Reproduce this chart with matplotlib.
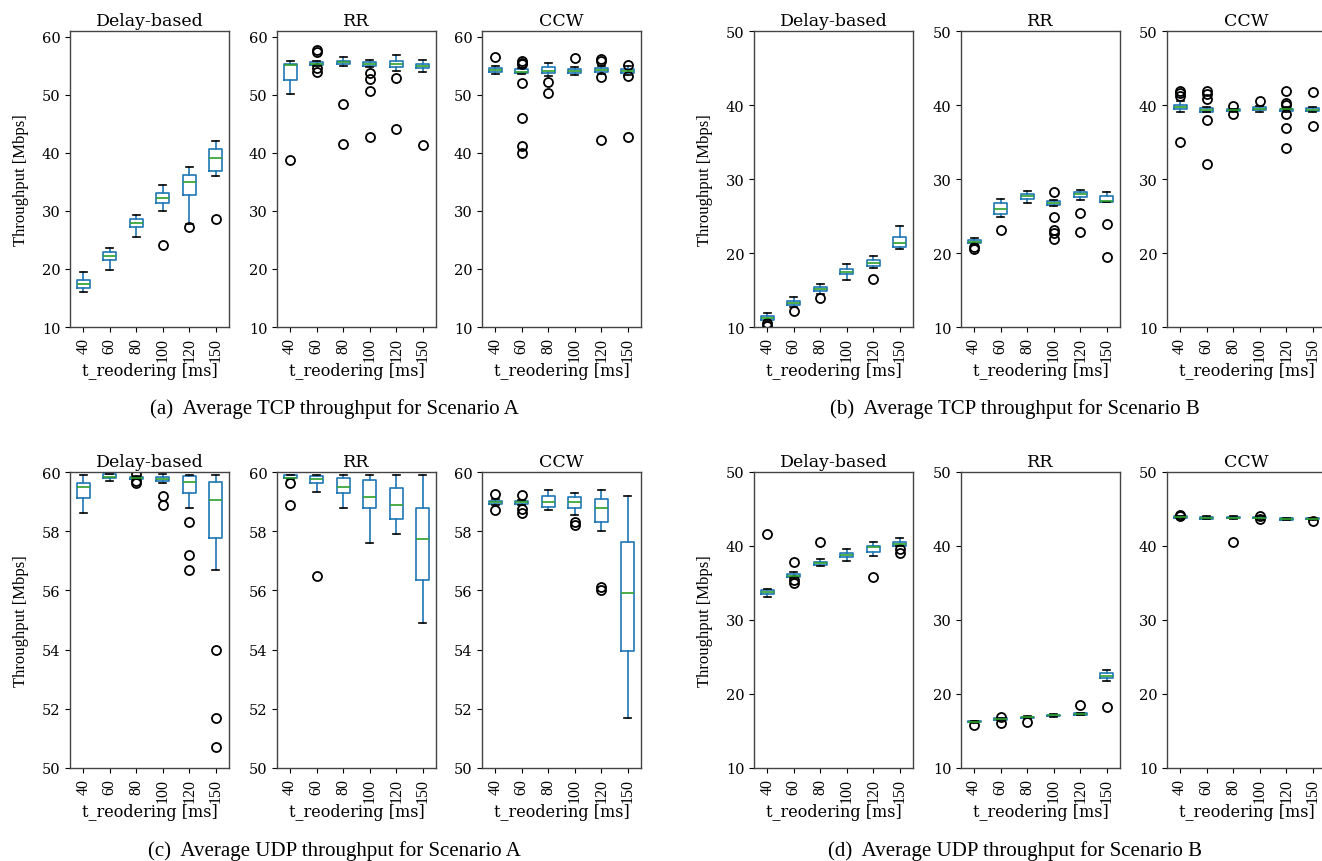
import matplotlib
matplotlib.use("Agg")
import matplotlib.pyplot as plt

# reordering timer settings (x ticks) and the three schemes per group
T_REORDER = ["40", "60", "80", "100", "120", "150"]
SCHEMES = ["Delay-based", "RR", "CCW"]

# box statistics per t_reordering: whisker low, Q1, median, Q3, whisker high, outliers
TCP_A_DELAY = dict(lo=[16.0, 19.9, 25.5, 30.0, 27.8, 36.0],
                   q1=[16.8, 21.6, 27.3, 31.4, 32.8, 36.9],
                   med=[17.4, 22.3, 27.95, 32.25, 35.0, 39.2],
                   q3=[18.1, 23.0, 28.6, 33.05, 36.2, 40.7],
                   hi=[19.5, 23.6, 29.3, 34.5, 37.6, 42.05],
                   fl=[[], [], [], [24.1], [27.3], [28.6]])
TCP_A_RR = dict(lo=[50.1, 55.0, 55.05, 54.85, 54.1, 53.85],
                q1=[52.5, 55.2, 55.35, 55.0, 54.8, 54.6],
                med=[55.2, 55.4, 55.6, 55.3, 55.3, 55.0],
                q3=[55.3, 55.6, 55.9, 55.6, 55.75, 55.4],
                hi=[55.75, 55.9, 56.6, 56.0, 56.85, 56.0],
                fl=[[38.7], [57.8, 57.4, 54.6, 53.9], [48.35, 41.5],
                    [53.75, 52.65, 50.65, 42.8], [52.95, 44.2], [41.3]])
TCP_A_CCW = dict(lo=[53.6, 53.6, 53.2, 53.5, 53.6, 53.5],
                 q1=[53.9, 53.75, 53.75, 53.8, 53.9, 53.7],
                 med=[54.2, 54.0, 54.1, 54.1, 54.2, 54.1],
                 q3=[54.6, 54.4, 54.8, 54.5, 54.6, 54.5],
                 hi=[54.9, 54.55, 55.5, 54.8, 55.0, 54.9],
                 fl=[[56.6], [55.9, 55.5, 55.3, 52.1, 46.0, 41.1, 39.9], [52.2, 50.4],
                     [56.3], [56.1, 55.9, 53.0, 42.3], [55.1, 53.3, 42.8]])

TCP_B_DELAY = dict(lo=[10.8, 12.75, 14.5, 16.4, 18.0, 20.6],
                   q1=[11.0, 13.0, 14.9, 17.1, 18.3, 20.8],
                   med=[11.26, 13.3, 15.2, 17.5, 18.7, 21.3],
                   q3=[11.5, 13.5, 15.45, 17.8, 19.0, 22.1],
                   hi=[11.85, 14.1, 15.8, 18.45, 19.6, 23.6],
                   fl=[[10.5, 10.2], [12.1], [13.9], [], [16.5], []])
TCP_B_RR = dict(lo=[21.1, 24.8, 26.75, 26.4, 27.2, 26.9],
                q1=[21.35, 25.3, 27.3, 26.45, 27.6, 26.95],
                med=[21.5, 26.0, 27.7, 26.7, 28.0, 27.0],
                q3=[21.75, 26.7, 28.0, 27.0, 28.2, 27.7],
                hi=[22.0, 27.3, 28.4, 27.2, 28.5, 28.25],
                fl=[[20.85, 20.5], [23.1], [], [28.2, 24.8, 23.1, 22.7, 21.9],
                    [25.45, 22.8], [23.9, 19.4]])
TCP_B_CCW = dict(lo=[39.0, 39.0, 39.1, 39.0, 39.1, 39.0],
                 q1=[39.4, 39.1, 39.15, 39.3, 39.2, 39.15],
                 med=[39.7, 39.3, 39.3, 39.45, 39.4, 39.35],
                 q3=[40.0, 39.55, 39.45, 39.7, 39.5, 39.55],
                 hi=[40.5, 39.7, 39.5, 39.9, 39.7, 39.7],
                 fl=[[41.85, 41.6, 41.2, 35.05], [41.85, 41.5, 40.8, 38.0, 32.0],
                     [39.8, 38.8], [40.6], [41.9, 40.3, 40.0, 38.8, 36.9, 34.2],
                     [41.75, 37.1]])

UDP_A_DELAY = dict(lo=[58.6, 59.7, 59.76, 59.62, 58.8, 56.7],
                   q1=[59.12, 59.79, 59.78, 59.71, 59.3, 57.76],
                   med=[59.49, 59.82, 59.8, 59.78, 59.65, 59.05],
                   q3=[59.62, 59.92, 59.82, 59.82, 59.88, 59.67],
                   hi=[59.91, 59.94, 59.85, 59.92, 59.91, 59.91],
                   fl=[[], [], [59.92, 59.68, 59.64], [59.19, 58.9],
                       [58.3, 57.2, 56.7], [54.0, 51.7, 50.7]])
UDP_A_RR = dict(lo=[59.75, 59.31, 58.8, 57.6, 57.9, 54.9],
                q1=[59.8, 59.62, 59.3, 58.8, 58.41, 56.34],
                med=[59.81, 59.75, 59.49, 59.15, 58.9, 57.75],
                q3=[59.9, 59.88, 59.8, 59.74, 59.45, 58.77],
                hi=[59.91, 59.91, 59.91, 59.91, 59.91, 59.91],
                fl=[[59.63, 58.9], [56.5], [], [], [], []])
UDP_A_CCW = dict(lo=[58.88, 58.87, 58.72, 58.55, 58.0, 51.7],
                 q1=[58.91, 58.92, 58.83, 58.8, 58.3, 53.95],
                 med=[58.98, 58.97, 59.0, 59.0, 58.8, 55.9],
                 q3=[59.03, 59.02, 59.2, 59.15, 59.1, 57.65],
                 hi=[59.08, 59.07, 59.4, 59.3, 59.4, 59.2],
                 fl=[[59.26, 58.73], [59.22, 58.75, 58.6], [], [58.3, 58.2],
                     [56.1, 56.0], []])

UDP_B_DELAY = dict(lo=[33.15, 35.7, 37.3, 37.95, 38.7, 39.95],
                   q1=[33.55, 35.8, 37.45, 38.5, 39.2, 40.05],
                   med=[33.8, 35.95, 37.7, 38.8, 39.8, 40.3],
                   q3=[34.0, 36.2, 37.9, 39.05, 40.0, 40.55],
                   hi=[34.2, 36.5, 38.25, 39.65, 40.55, 41.1],
                   fl=[[41.6], [37.85, 35.4, 35.0], [40.6], [], [35.8], [39.55, 39.05]])
UDP_B_RR = dict(lo=[16.1, 16.45, 16.7, 16.95, 17.1, 21.8],
                q1=[16.2, 16.5, 16.8, 17.05, 17.2, 22.1],
                med=[16.25, 16.6, 16.85, 17.1, 17.3, 22.5],
                q3=[16.35, 16.7, 16.95, 17.2, 17.4, 22.9],
                hi=[16.4, 16.8, 17.0, 17.25, 17.5, 23.2],
                fl=[[15.8], [16.9, 16.1], [16.2], [], [18.45], [18.3]])
UDP_B_CCW = dict(lo=[43.8, 43.6, 43.7, 43.7, 43.5, 43.5],
                 q1=[43.85, 43.7, 43.75, 43.75, 43.55, 43.6],
                 med=[43.9, 43.8, 43.85, 43.85, 43.65, 43.7],
                 q3=[44.0, 43.9, 43.95, 43.95, 43.75, 43.8],
                 hi=[44.05, 44.0, 44.0, 44.0, 43.8, 43.85],
                 fl=[[44.2, 44.1], [], [40.6], [44.1, 43.6], [], [43.4]])

CAPTIONS = ["(a)  Average TCP throughput for Scenario A",
            "(b)  Average TCP throughput for Scenario B",
            "(c)  Average UDP throughput for Scenario A",
            "(d)  Average UDP throughput for Scenario B"]

W, H = 1322, 862
fig = plt.figure(figsize=(W / 100, H / 100), dpi=100)

SERIF = "DejaVu Serif"
TIMES = "Liberation Serif"


def to_stats(d):
    return [dict(whislo=d["lo"][i], q1=d["q1"][i], med=d["med"][i], q3=d["q3"][i],
                 whishi=d["hi"][i], fliers=d["fl"][i]) for i in range(len(T_REORDER))]


def panel(x0, top, bottom, data, title, ylim, yticks, ylabel):
    ax = fig.add_axes([x0 / W, 1 - bottom / H, 159 / W, (bottom - top) / H])
    ax.bxp(to_stats(data), positions=range(1, 7), widths=0.5,
           boxprops=dict(color="#1f77b4", lw=1.2),
           whiskerprops=dict(color="#1f77b4", lw=1.2),
           capprops=dict(color="black", lw=1.2),
           medianprops=dict(color="#2ca02c", lw=1.2),
           flierprops=dict(marker="o", markerfacecolor="none",
                           markeredgecolor="black", markersize=6.5, mew=1.3))
    ax.set_xlim(0.5, 6.5)
    ax.set_ylim(*ylim)
    ax.set_yticks(yticks)
    ax.set_yticklabels([str(t) for t in yticks], fontsize=10.5, family=SERIF)
    ax.set_xticks(range(1, 7))
    ax.set_xticklabels(T_REORDER, rotation=90, fontsize=11.5, family=TIMES)
    ax.set_title(title, fontsize=12.5, family=SERIF, pad=4)
    ax.set_xlabel("t_reodering [ms]", fontsize=11.5, family=SERIF)
    ax.xaxis.set_label_coords(0.5, -0.118)
    for s in ax.spines.values():
        s.set_color("#444444")
        s.set_linewidth(1.0)
    if ylabel:
        ax.set_ylabel("Throughput [Mbps]", fontsize=12, family=TIMES)
        ax.yaxis.set_label_coords(-0.255, 0.5)
    return ax


GROUPS = [
    ((TCP_A_DELAY, TCP_A_RR, TCP_A_CCW), (70, 277, 482), (32, 328), (10, 61), [10, 20, 30, 40, 50, 60]),
    ((TCP_B_DELAY, TCP_B_RR, TCP_B_CCW), (754, 961, 1167), (32, 328), (10, 50), [10, 20, 30, 40, 50]),
    ((UDP_A_DELAY, UDP_A_RR, UDP_A_CCW), (70, 277, 482), (473, 769), (50, 60), [50, 52, 54, 56, 58, 60]),
    ((UDP_B_DELAY, UDP_B_RR, UDP_B_CCW), (754, 961, 1167), (473, 769), (10, 50), [10, 20, 30, 40, 50]),
]

for datasets, lefts, (top, bottom), ylim, yticks in GROUPS:
    for k, (d, x0, name) in enumerate(zip(datasets, lefts, SCHEMES)):
        panel(x0, top, bottom, d, name, ylim, yticks, ylabel=(k == 0))

# sub-figure captions
for cap, (cx, cy) in zip(CAPTIONS, [(334, 409), (1015, 409), (334, 851), (1015, 851)]):
    fig.text(cx / W, 1 - cy / H, cap, ha="center", va="center", fontsize=15, family=TIMES)

fig.savefig("out.png", dpi=100)
